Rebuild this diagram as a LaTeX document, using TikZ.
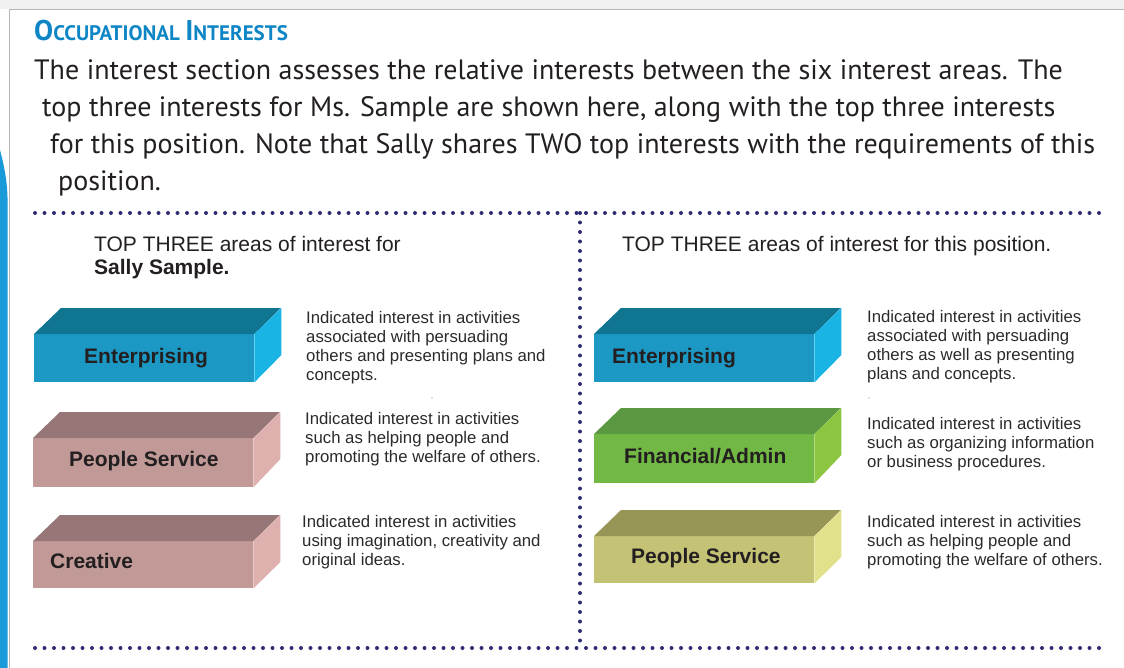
\documentclass[tikz,border=0pt]{standalone}
\usepackage{fontspec}
\setmainfont{PT Sans}
\newfontfamily\arialfont{Liberation Sans}

\definecolor{titleblue}{HTML}{0E86C6}
\definecolor{bodytext}{HTML}{231F20}
\definecolor{desctext}{HTML}{2A2A2A}
\definecolor{navydot}{HTML}{2E2D72}
\definecolor{sidebar}{HTML}{1A9AD8}
\definecolor{framegray}{HTML}{B5B5B5}
\definecolor{bandgray}{HTML}{F0F0F0}
% slab colours: front / top / side
\definecolor{entFront}{HTML}{1C98C4}
\definecolor{entTop}{HTML}{0F7591}
\definecolor{entSide}{HTML}{19B4E3}
\definecolor{psFront}{HTML}{C19A98}
\definecolor{psTop}{HTML}{967676}
\definecolor{psSide}{HTML}{DEB1AE}
\definecolor{finFront}{HTML}{71B944}
\definecolor{finTop}{HTML}{5B9842}
\definecolor{finSide}{HTML}{8CC53F}
\definecolor{olvFront}{HTML}{C4C275}
\definecolor{olvTop}{HTML}{989657}
\definecolor{olvSide}{HTML}{E0E18A}

\tikzset{
  dotline/.style={draw=navydot, line width=4pt, line cap=round, dash pattern=on 0pt off 9.5pt},
  para/.style={anchor=base west, inner sep=0pt, text=bodytext, font=\fontsize{28}{28}\selectfont},
  header/.style={anchor=base west, inner sep=0pt, text=bodytext, font=\arialfont\fontsize{21}{21}\selectfont},
  desc/.style={anchor=north west, inner sep=0pt, align=left, text=desctext, font=\arialfont\fontsize{16.75}{19.2}\selectfont},
  slabfront/.style={anchor=north west, inner sep=0pt, minimum width=220pt, draw=none},
  slablabel/.style={anchor=base west, inner sep=0pt, text=bodytext, font=\arialfont\bfseries\fontsize{21}{21}\selectfont},
}

% a 3-D slab: front face node plus top and side faces
\newcommand{\slabfaces}[3]{%
  \fill[#2] (#1.north west) -- ++(27,-26) -- ++(220,0) -- (#1.north east) -- cycle;
  \fill[#3] (#1.north east) -- ++(27,-26) -- ++(0,47) -- (#1.south east) -- cycle;
}

\begin{document}
\begin{tikzpicture}[x=1pt,y=-1pt]
\useasboundingbox (0,0) rectangle (1124,668);

% page frame
\fill[bandgray] (0,0) rectangle (1124,9);
\draw[framegray, line width=1.6pt] (9.5,668) -- (9.5,9.5) -- (1124,9.5);
\fill[sidebar] (0,150) .. controls (4,165) and (7,180) .. (7.5,197) -- (7.5,668) -- (0,668) -- cycle;

% heading and introduction
\node[anchor=base west, inner sep=0pt, text=titleblue, font=\bfseries] (title) at (34,41)
  {{\fontsize{28.5}{28.5}\selectfont O}{\fontsize{21}{21}\selectfont CCUPATIONAL\ }{\fontsize{28.5}{28.5}\selectfont I}{\fontsize{21}{21}\selectfont NTERESTS}};
\node[para] (p1) at (34,80) {The interest section assesses the relative interests between the six interest areas. The};
\node[para] (p2) at (42,117) {top three interests for Ms. Sample are shown here, along with the top three interests};
\node[para] (p3) at (50,154) {for this position. Note that Sally shares TWO top interests with the requirements of this};
\node[para] (p4) at (58,191) {position.};

% dotted dividers
\coordinate (dTL) at (35,213);
\coordinate (dTR) at (1108,213);
\coordinate (dBL) at (35,648);
\coordinate (dBR) at (1108,648);
\coordinate (dMT) at (580,213);
\coordinate (dMB) at (580,648);
\draw[dotline] (dTL) -- (dTR);
\draw[dotline] (dBL) -- (dBR);
\draw[dotline] (dMT) -- (dMB);

% column headers
\node[header] (hL) at (94,252) {TOP THREE areas of interest for};
\node[header, font=\arialfont\bfseries\fontsize{21}{21}\selectfont] (hL2) at (94,275) {Sally Sample.};
\node[header] (hR) at (622,252) {TOP THREE areas of interest for this position.};

% left column slabs
\node[slabfront, fill=entFront, minimum height=48pt] (sL1) at (34,334) {};
\slabfaces{sL1}{entTop}{entSide}
\node[slabfront, fill=psFront, minimum height=49pt] (sL2) at (33,438) {};
\slabfaces{sL2}{psTop}{psSide}
\node[slabfront, fill=psFront, minimum height=47pt] (sL3) at (33,541) {};
\slabfaces{sL3}{psTop}{psSide}
\node[slablabel] (tL1) at (84,363) {Enterprising};
\node[slablabel] (tL2) at (69,466) {People Service};
\node[slablabel] (tL3) at (50,568) {Creative};

% right column slabs
\node[slabfront, fill=entFront, minimum height=48pt] (sR1) at (594,334) {};
\slabfaces{sR1}{entTop}{entSide}
\node[slabfront, fill=finFront, minimum height=49pt] (sR2) at (594,434) {};
\slabfaces{sR2}{finTop}{finSide}
\node[slabfront, fill=olvFront, minimum height=47pt] (sR3) at (594,536) {};
\slabfaces{sR3}{olvTop}{olvSide}
\node[slablabel] (tR1) at (612,363) {Enterprising};
\node[slablabel] (tR2) at (624,463) {Financial/Admin};
\node[slablabel] (tR3) at (631,563) {People Service};

% descriptions
\node[desc] (dL1) at (306,311) {Indicated interest in activities\\associated with persuading\\others and presenting plans and\\concepts.};
\node[desc] (dL2) at (305,412) {Indicated interest in activities\\such as helping people and\\promoting the welfare of others.};
\node[desc] (dL3) at (302,515) {Indicated interest in activities\\using imagination, creativity and\\original ideas.};
\node[desc] (dR1) at (867,310) {Indicated interest in activities\\associated with persuading\\others as well as presenting\\plans and concepts.};
\node[desc] (dR2) at (867,417) {Indicated interest in activities\\such as organizing information\\or business procedures.};
\node[desc] (dR3) at (867,515) {Indicated interest in activities\\such as helping people and\\promoting the welfare of others.};

% stray specks
\fill[desctext!60] (432,398) circle (0.7);
\fill[desctext!60] (869,398) circle (0.7);
\end{tikzpicture}
\end{document}
